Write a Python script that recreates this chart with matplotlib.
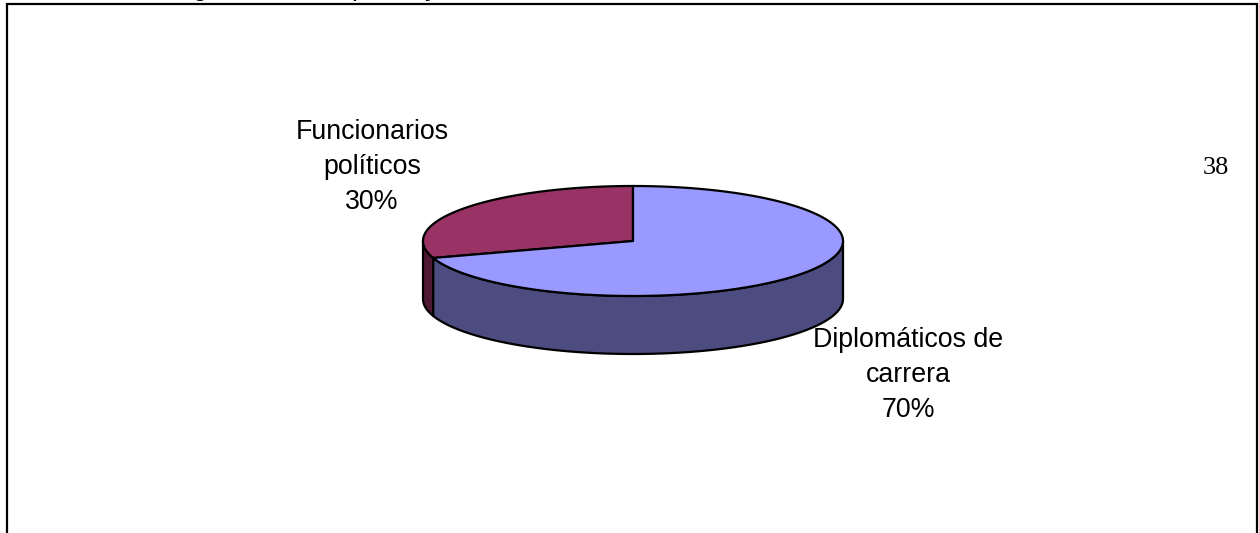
import numpy as np
import matplotlib
matplotlib.use("Agg")
import matplotlib.pyplot as plt
from matplotlib.patches import Polygon

# Data
categories = ["Funcionarios\npolíticos", "Diplomáticos de\ncarrera"]
shares = [30, 70]
top_colors = ["#993366", "#9999FF"]
side_colors = ["#4D1933", "#4C4C80"]
page_number = "38"

W, H = 1259, 533
fig = plt.figure(figsize=(W / 100, H / 100), dpi=100)
ax = fig.add_axes([0, 0, 1, 1])
ax.set_xlim(0, W)
ax.set_ylim(H, 0)
ax.axis("off")

font = ["Liberation Sans", "DejaVu Sans"]

# Heading line above the frame (falls off the top of the page)
for ch, hx in (("g", 200), ("p", 359), ("y", 432)):
    ax.text(hx, -3.7, ch, ha="center", va="baseline", fontsize=19, family=font,
            color="black", clip_on=False)

# Page frame (open at the bottom)
ax.plot([7, 7, 1257, 1257], [H + 5, 3.5, 3.5, H + 5], color="black", lw=1.6,
        solid_joinstyle="miter", clip_on=False)

# 3D pie geometry (pixels)
cx, cy, a, b, depth = 633, 241, 210, 55, 58


def ell(t):
    return cx + a * np.cos(t), cy - b * np.sin(t)


# slice angles: start at 12 o'clock, counter-clockwise
fracs = np.array(shares, dtype=float) / sum(shares)
starts = np.pi / 2 + 2 * np.pi * np.concatenate([[0], np.cumsum(fracs)[:-1]])
ends = starts + 2 * np.pi * fracs

edge_kw = dict(edgecolor="black", linewidth=1.6, joinstyle="round")

# visible side walls (front half: pi..2pi)
for s, e, col in zip(starts, ends, side_colors):
    for off in (0, 2 * np.pi):
        lo = max(s, np.pi + off)
        hi = min(e, 2 * np.pi + off)
        if hi > lo:
            t = np.linspace(lo, hi, 200)
            x, y = ell(t)
            pts = np.column_stack([np.r_[x, x[::-1]], np.r_[y, y[::-1] + depth]])
            ax.add_patch(Polygon(pts, closed=True, facecolor=col, **edge_kw))

# top faces
for s, e, col in zip(starts, ends, top_colors):
    t = np.linspace(s, e, 400)
    x, y = ell(t)
    pts = np.column_stack([np.r_[cx, x], np.r_[cy, y]])
    ax.add_patch(Polygon(pts, closed=True, facecolor=col, **edge_kw))

# labels
label_pos = [(372, 167), (908, 375)]
for cat, val, (lx, ly) in zip(categories, shares, label_pos):
    ax.text(lx, ly, f"{cat}\n{val}%", ha="center", va="center", fontsize=19.3,
            family=font, linespacing=1.45, color="black")

ax.text(1216, 168, page_number, ha="center", va="center", fontsize=19,
        family=["Liberation Serif", "DejaVu Serif"], color="black")

fig.savefig("out.png", dpi=100, facecolor="white")
